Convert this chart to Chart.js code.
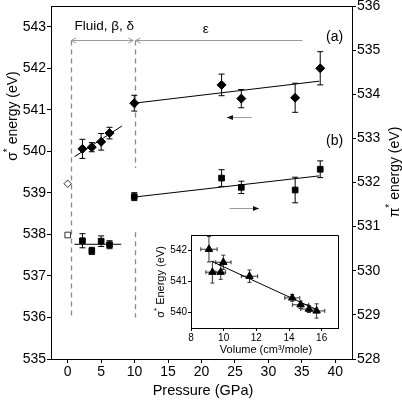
<!DOCTYPE html>
<html>
<head>
<meta charset="utf-8">
<script src="https://cdn.jsdelivr.net/npm/chart.js@4.4.1/dist/chart.umd.min.js"></script>
<style>
  body { margin: 0; background: #fff; }
  #wrap { position: relative; width: 402px; height: 400px; }
  #main { position: absolute; left: 0; top: 0; }
  #inset { position: absolute; left: 140px; top: 225px; }
</style>
</head>
<body>
<div id="wrap">
  <canvas id="main" width="402" height="400"></canvas>
  <canvas id="inset" width="205" height="140"></canvas>
</div>
<script>
// main panel: pressure (GPa) vs core-level energies
var pressure = [2.2, 3.6, 5.0, 6.25, 9.95, 23.0, 25.95, 34.0, 37.75];
var sigmaEnergy = [540.06, 540.10, 540.23, 540.44, 541.16, 541.60, 541.27, 541.29, 542.00];
var sigmaErr = [0.23, 0.11, 0.20, 0.14, 0.19, 0.26, 0.22, 0.35, 0.40];
var piEnergy = [530.68, 530.45, 530.67, 530.59, 531.68, 532.10, 531.89, 531.83, 532.30];
var piErr = [0.16, 0.08, 0.12, 0.09, 0.09, 0.19, 0.14, 0.29, 0.19];

// open symbols at ambient pressure
var refPressure = [0];
var refSigma = [539.22];
var refPi = [530.81];

// linear fits
var fluidFitP = [1.0, 8.1];
var fluidSigmaFit = [539.87, 540.61];
var fluidPiFitP = [1.0, 8.0];
var fluidPiFit = [530.6, 530.6];
var epsFitP = [9.95, 37.6];
var epsSigmaFit = [541.16, 541.69];
var epsPiFit = [531.67, 532.15];

var xTicks = [0, 5, 10, 15, 20, 25, 30, 35, 40];
var leftTicks = [535, 536, 537, 538, 539, 540, 541, 542, 543];
var rightTicks = [528, 529, 530, 531, 532, 533, 534, 535, 536];

// inset: volume vs sigma* energy
var volume = [9.10, 9.31, 9.82, 9.98, 11.58, 14.20, 14.71, 15.22, 15.69];
var insetSigma = [542.04, 541.30, 541.30, 541.62, 541.17, 540.47, 540.25, 540.11, 540.05];
var insetErrY = [0.41, 0.35, 0.23, 0.23, 0.20, 0.11, 0.12, 0.11, 0.23];
var insetErrX = [0.5, 0.4, 0.3, 0.47, 0.5, 0.46, 0.5, 0.5, 0.5];
var insetFitV = [9.31, 15.71];
var insetFitE = [541.64, 540.09];
var insetXTicks = [8, 10, 12, 14, 16];
var insetYTicks = [540, 541, 542];

var FONT = "'Liberation Sans', Arial, sans-serif";
Chart.defaults.font.family = FONT;
Chart.defaults.color = '#000';

function xy(xs, ys) {
  return xs.map(function (x, i) { return { x: x, y: ys[i] }; });
}

function fixTicks(vals) {
  return function (scale) {
    scale.ticks = vals.map(function (v) { return { value: v }; });
  };
}

function fixSize(w, h) {
  return function (scale) {
    if (w != null) scale.width = w;
    if (h != null) scale.height = h;
    scale.paddingTop = 0; scale.paddingBottom = 0;
    scale.paddingLeft = 0; scale.paddingRight = 0;
  };
}

function axis(opts, fontSize, tickLen) {
  var base = {
    type: 'linear',
    grid: { drawOnChartArea: false, color: '#000', tickLength: tickLen, lineWidth: 1 },
    border: { display: true, color: '#000', width: 1 },
    ticks: { font: { size: fontSize }, color: '#000', padding: 1, maxRotation: 0 }
  };
  return Object.assign(base, opts);
}

function errorBars(sets) {
  return {
    id: 'errorBars',
    beforeDatasetsDraw: function (chart) {
      var ctx = chart.ctx, sx = chart.scales.x;
      ctx.save();
      sets.forEach(function (s) {
        var sy = chart.scales[s.axis];
        ctx.strokeStyle = s.color;
        ctx.lineWidth = 1;
        s.x.forEach(function (xv, i) {
          var px = sx.getPixelForValue(xv), py = sy.getPixelForValue(s.y[i]);
          ctx.beginPath();
          if (s.yerr) {
            var t = sy.getPixelForValue(s.y[i] + s.yerr[i]);
            var b = sy.getPixelForValue(s.y[i] - s.yerr[i]);
            ctx.moveTo(px, t); ctx.lineTo(px, b);
            ctx.moveTo(px - s.cap, t); ctx.lineTo(px + s.cap, t);
            ctx.moveTo(px - s.cap, b); ctx.lineTo(px + s.cap, b);
          }
          if (s.xerr) {
            var l = sx.getPixelForValue(xv - s.xerr[i]);
            var r = sx.getPixelForValue(xv + s.xerr[i]);
            ctx.moveTo(l, py); ctx.lineTo(r, py);
            ctx.moveTo(l, py - s.cap); ctx.lineTo(l, py + s.cap);
            ctx.moveTo(r, py - s.cap); ctx.lineTo(r, py + s.cap);
          }
          ctx.stroke();
        });
      });
      ctx.restore();
    }
  };
}

function drawSupText(ctx, parts, x, y, rot, size) {
  // parts: [base, superscript, rest]
  ctx.save();
  ctx.translate(x, y);
  ctx.rotate(rot);
  ctx.textBaseline = 'middle';
  ctx.textAlign = 'left';
  ctx.fillStyle = '#000';
  var big = size + 'px ' + FONT, small = Math.round(size * 0.7) + 'px ' + FONT;
  ctx.font = big; var w1 = ctx.measureText(parts[0]).width, w3 = ctx.measureText(parts[2]).width;
  ctx.font = small; var w2 = ctx.measureText(parts[1]).width;
  var x0 = -(w1 + w2 + w3) / 2;
  ctx.font = big; ctx.fillText(parts[0], x0, 0);
  ctx.font = small; ctx.fillText(parts[1], x0 + w1, -size * 0.35);
  ctx.font = big; ctx.fillText(parts[2], x0 + w1 + w2, 0);
  ctx.restore();
}

function frame(sides) {
  return {
    id: 'frame',
    afterDraw: function (chart) {
      var a = chart.chartArea, ctx = chart.ctx;
      var l = Math.round(a.left - 0.5) + 0.5, r = Math.round(a.right - 0.5) + 0.5;
      var t = Math.round(a.top - 0.5) + 0.5, b = Math.round(a.bottom - 0.5) + 0.5;
      ctx.save();
      ctx.strokeStyle = '#000'; ctx.lineWidth = 1;
      ctx.beginPath();
      if (sides.indexOf('top') >= 0) { ctx.moveTo(l, t); ctx.lineTo(r, t); }
      if (sides.indexOf('right') >= 0) { ctx.moveTo(r, t); ctx.lineTo(r, b); }
      ctx.stroke();
      ctx.restore();
    }
  };
}

// phase boundaries, phase arrows and labels of the main panel
var annotations = {
  id: 'annotations',
  beforeDatasetsDraw: function (chart) {
    var ctx = chart.ctx, sx = chart.scales.x, sy = chart.scales.y;
    function X(v) { return sx.getPixelForValue(v); }
    function Y(v) { return sy.getPixelForValue(v); }
    ctx.save();
    // dashed phase boundaries
    ctx.strokeStyle = '#8a8a8a';
    ctx.lineWidth = 1.3;
    ctx.setLineDash([5, 4]);
    [[0.5, 542.67, 536.0], [10, 542.67, 539.6], [10, 538.05, 536.0]].forEach(function (d) {
      ctx.beginPath();
      ctx.moveTo(Math.round(X(d[0])) + 0.5, Y(d[1]));
      ctx.lineTo(Math.round(X(d[0])) + 0.5, Y(d[2]));
      ctx.stroke();
    });
    ctx.setLineDash([]);
    // phase range arrows
    ctx.strokeStyle = '#9a9a9a';
    ctx.lineWidth = 1;
    var ay = Math.round(Y(542.67)) + 0.5;
    function chevron(px, dir) {
      ctx.beginPath();
      ctx.moveTo(px + dir * 5, ay - 2.5);
      ctx.lineTo(px, ay);
      ctx.lineTo(px + dir * 5, ay + 2.5);
      ctx.stroke();
    }
    ctx.beginPath();
    ctx.moveTo(X(0.5), ay); ctx.lineTo(X(9.8), ay);
    ctx.moveTo(X(10.15), ay); ctx.lineTo(X(35.1), ay);
    ctx.stroke();
    chevron(X(0.5), 1);
    chevron(X(9.8), -1);
    chevron(X(10.15), 1);
    // axis pointers for series (a) and (b)
    function pointer(p1, p2, e, dir) {
      var y = Math.round(Y(e)) + 0.5;
      var x1 = X(p1), x2 = X(p2);
      ctx.strokeStyle = '#9a9a9a';
      ctx.beginPath(); ctx.moveTo(x1, y); ctx.lineTo(x2, y); ctx.stroke();
      var tip = dir < 0 ? x1 : x2;
      ctx.fillStyle = '#111';
      ctx.beginPath();
      ctx.moveTo(tip, y);
      ctx.lineTo(tip - dir * 6, y - 2.5);
      ctx.lineTo(tip - dir * 6, y + 2.5);
      ctx.closePath();
      ctx.fill();
    }
    pointer(23.8, 27.5, 540.82, -1);
    pointer(24.2, 28.6, 538.64, 1);
    // labels
    ctx.fillStyle = '#000';
    ctx.textBaseline = 'middle';
    ctx.textAlign = 'left';
    ctx.font = '13.5px ' + FONT;
    ctx.fillText('Fluid, \u03B2, \u03B4', X(1.0), Y(543.0));
    ctx.fillText('\u03B5', X(20.2), Y(542.95));
    ctx.font = '14px ' + FONT;
    ctx.textAlign = 'center';
    ctx.fillText('(a)', X(39.9), Y(542.75));
    ctx.fillText('(b)', X(39.9), Y(540.24));
    ctx.restore();
  }
};

var mainTitles = {
  id: 'mainTitles',
  afterDraw: function (chart) {
    var ctx = chart.ctx;
    drawSupText(ctx, ['\u03C3', '*', ' energy (eV)'], 13, 116, -Math.PI / 2, 14);
    drawSupText(ctx, ['\u03C0', '*', ' energy (eV)'], 395, 172, -Math.PI / 2, 14);
    ctx.save();
    ctx.font = '14.5px ' + FONT;
    ctx.fillStyle = '#000';
    ctx.textAlign = 'center';
    ctx.textBaseline = 'middle';
    ctx.fillText('Pressure (GPa)', 203, 391);
    ctx.restore();
  }
};

function lineSet(xs, ys, axisId) {
  return {
    type: 'line', data: xy(xs, ys), yAxisID: axisId,
    borderColor: '#000', borderWidth: 1, pointRadius: 0, fill: false, showLine: true
  };
}

new Chart('main', {
  type: 'scatter',
  data: {
    datasets: [
      { data: xy(pressure, sigmaEnergy), yAxisID: 'y', pointStyle: 'rectRot', pointRadius: 4.5,
        backgroundColor: '#000', borderColor: '#000', borderWidth: 1 },
      { data: xy(pressure, piEnergy), yAxisID: 'y2', pointStyle: 'rect', pointRadius: 4,
        backgroundColor: '#000', borderColor: '#000', borderWidth: 1 },
      { data: xy(refPressure, refSigma), yAxisID: 'y', pointStyle: 'rectRot', pointRadius: 3.7,
        backgroundColor: '#fff', borderColor: '#000', borderWidth: 0.8 },
      { data: xy(refPressure, refPi), yAxisID: 'y2', pointStyle: 'rect', pointRadius: 4,
        backgroundColor: '#fff', borderColor: '#000', borderWidth: 0.8 },
      lineSet(fluidFitP, fluidSigmaFit, 'y'),
      lineSet(fluidPiFitP, fluidPiFit, 'y2'),
      lineSet(epsFitP, epsSigmaFit, 'y'),
      lineSet(epsFitP, epsPiFit, 'y2')
    ]
  },
  options: {
    responsive: false,
    animation: false,
    events: [],
    layout: { padding: { top: 6, left: 0, right: 0, bottom: 0 } },
    plugins: { legend: { display: false }, tooltip: { enabled: false } },
    scales: {
      x: axis({ position: 'bottom', min: -2.5, max: 42.5,
        afterBuildTicks: fixTicks(xTicks), afterFit: fixSize(null, 41) }, 14, 4),
      y: axis({ position: 'left', min: 535, max: 543.5,
        afterBuildTicks: fixTicks(leftTicks), afterFit: fixSize(51, null) }, 14, 4),
      y2: axis({ position: 'right', min: 528, max: 536,
        afterBuildTicks: fixTicks(rightTicks), afterFit: fixSize(50, null) }, 14, 4)
    }
  },
  plugins: [
    annotations,
    errorBars([
      { x: pressure, y: sigmaEnergy, yerr: sigmaErr, axis: 'y', cap: 3, color: '#000' },
      { x: pressure, y: piEnergy, yerr: piErr, axis: 'y2', cap: 3, color: '#000' }
    ]),
    frame(['top']),
    mainTitles
  ]
});

var insetTitles = {
  id: 'insetTitles',
  afterDraw: function (chart) {
    var ctx = chart.ctx;
    drawSupText(ctx, ['\u03C3', '*', ' Energy (eV)'], 21, 57, -Math.PI / 2, 11);
    ctx.save();
    ctx.font = '11px ' + FONT;
    ctx.fillStyle = '#000';
    ctx.textAlign = 'center';
    ctx.textBaseline = 'middle';
    ctx.fillText('Volume (cm\u00B3/mole)', 126, 125);
    ctx.restore();
  }
};

new Chart('inset', {
  type: 'scatter',
  data: {
    datasets: [
      { data: xy(volume, insetSigma), pointStyle: 'triangle', pointRadius: 4.3,
        backgroundColor: '#000', borderColor: '#000', borderWidth: 1 },
      lineSet(insetFitV, insetFitE, 'y')
    ]
  },
  options: {
    responsive: false,
    animation: false,
    events: [],
    layout: { padding: { top: 10, left: 0, right: 7, bottom: 0 } },
    plugins: { legend: { display: false }, tooltip: { enabled: false } },
    scales: {
      x: axis({ position: 'bottom', min: 8, max: 17,
        afterBuildTicks: fixTicks(insetXTicks), afterFit: fixSize(null, 37) }, 10, 3),
      y: axis({ position: 'left', min: 539.5, max: 542.5,
        afterBuildTicks: fixTicks(insetYTicks), afterFit: fixSize(51, null) }, 10, 3)
    }
  },
  plugins: [
    errorBars([
      { x: volume, y: insetSigma, yerr: insetErrY, xerr: insetErrX, axis: 'y', cap: 2, color: '#333' }
    ]),
    frame(['top', 'right']),
    insetTitles
  ]
});
</script>
</body>
</html>
